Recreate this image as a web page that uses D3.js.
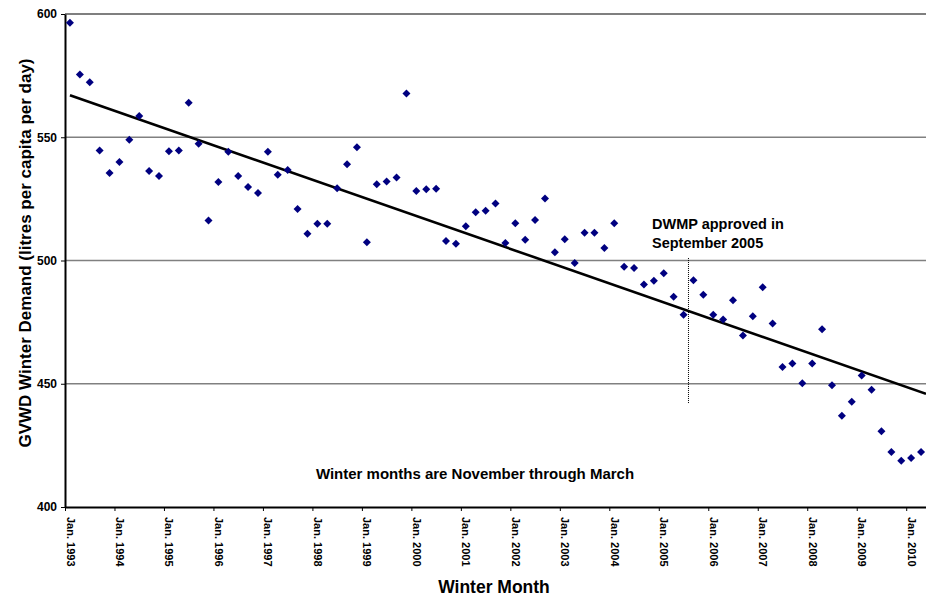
<!DOCTYPE html>
<html>
<head>
<meta charset="utf-8">
<script src="https://cdn.jsdelivr.net/npm/d3@7"></script>
<style>
  body { margin: 0; background: #fff; }
  svg { font-family: "Liberation Sans", Arial, sans-serif; font-weight: bold; }
  .axis path, .axis line { stroke: #000; }
</style>
</head>
<body>
<svg class="chart"></svg>
<script>
// Winter months (Nov-Mar), Jan 1993 to Feb 2010
var demand = [
  596.5, 575.5, 572.3, 544.6, 535.5,
  540.0, 549.0, 558.6, 536.3, 534.3,
  544.3, 544.6, 564.0, 547.4, 516.2,
  531.8, 544.1, 534.3, 529.8, 527.4,
  544.1, 534.8, 536.7, 520.9, 510.9,
  514.9, 514.9, 529.3, 539.0, 545.9,
  507.4, 530.9, 532.0, 533.7, 567.7,
  528.2, 528.9, 529.1, 507.9, 506.8,
  513.9, 519.6, 520.2, 523.1, 507.1,
  515.1, 508.4, 516.4, 525.2, 503.3,
  508.6, 499.0, 511.3, 511.3, 505.1,
  515.1, 497.5, 497.0, 490.3, 491.8,
  494.8, 485.3, 478.0, 492.0, 486.1,
  478.0, 476.1, 483.9, 469.6, 477.4,
  489.1, 474.4, 456.8, 458.2, 450.2,
  458.2, 472.1, 449.4, 437.0, 442.7,
  453.3, 447.6, 430.7, 422.3, 418.8,
  419.9, 422.3
];

var tickLabels = [
  "Jan. 1993", "Jan. 1994", "Jan. 1995", "Jan. 1996", "Jan. 1997", "Jan. 1998",
  "Jan. 1999", "Jan. 2000", "Jan. 2001", "Jan. 2002", "Jan. 2003", "Jan. 2004",
  "Jan. 2005", "Jan. 2006", "Jan. 2007", "Jan. 2008", "Jan. 2009", "Jan. 2010"
];
var tickIndex = [0, 5, 10, 15, 20, 25, 30, 35, 40, 45, 50, 55, 60, 65, 70, 75, 80, 85];
var yTicks = [400, 450, 500, 550, 600];

// DWMP approval falls between Mar 2005 (index 62) and Nov 2005 (index 63)
var dwmpIndex = 63;
var dwmpRange = [501, 442];

(function () {
  var W = 926, H = 597;
  var left = 65, right = 926, top = 14, bottom = 507;

  var svg = d3.select(".chart")
      .attr("width", W)
      .attr("height", H);

  var x = d3.scaleLinear()
    .domain([0, demand.length])
    .range([left, right]);

  var y = d3.scaleLinear()
    .domain([400, 600])
    .range([bottom, top]);

  // gridlines
  svg.append("g")
    .selectAll("line")
    .data(yTicks.filter(function(d) { return d > 400; }))
    .enter().append("line")
      .attr("x1", left).attr("x2", right)
      .attr("y1", function(d) { return y(d); })
      .attr("y2", function(d) { return y(d); })
      .attr("stroke", function(d) { return d === 600 ? "#000" : "#808080"; })
      .attr("stroke-width", function(d) { return d === 600 ? 1.2 : 1.3; });

  // y axis
  var yaxis = d3.axisLeft(y).tickValues(yTicks).tickSize(4).tickSizeOuter(0);
  var gy = svg.append("g")
    .attr("class", "axis")
    .attr("transform", "translate(" + left + ",0)")
    .call(yaxis);
  gy.select(".domain").attr("stroke-width", 2);
  gy.selectAll("text")
    .attr("x", -8)
    .style("font-size", "12px")
    .style("font-weight", "bold")
    .style("font-family", "Liberation Sans, Arial, sans-serif")
    .attr("fill", "#000");

  // x axis
  var xaxis = d3.axisBottom(x)
    .tickValues(tickIndex)
    .tickFormat(function(d, i) { return tickLabels[i]; })
    .tickSize(4)
    .tickSizeOuter(0);
  var gx = svg.append("g")
    .attr("class", "axis")
    .attr("transform", "translate(0," + bottom + ")")
    .call(xaxis);
  gx.select(".domain").attr("stroke-width", 2);
  gx.selectAll("text")
    .attr("x", 0).attr("y", 0).attr("dy", null)
    .attr("text-anchor", "start")
    .attr("transform", "translate(1,10) rotate(90)")
    .style("font-size", "11px")
    .style("font-weight", "bold")
    .style("font-family", "Liberation Sans, Arial, sans-serif")
    .attr("fill", "#000");

  // linear trend (least squares over category index)
  var n = demand.length;
  var mx = d3.mean(demand, function(d, i) { return i; });
  var my = d3.mean(demand);
  var sxy = d3.sum(demand, function(d, i) { return (i - mx) * (d - my); });
  var sxx = d3.sum(demand, function(d, i) { return (i - mx) * (i - mx); });
  var slope = sxy / sxx;
  var icpt = my - slope * mx;

  svg.append("line")
    .attr("x1", x(0.5)).attr("y1", y(icpt))
    .attr("x2", x(n)).attr("y2", y(icpt + slope * (n - 0.5)))
    .attr("stroke", "#000")
    .attr("stroke-width", 2.6);

  // points
  svg.append("g")
    .selectAll("path")
    .data(demand)
    .enter().append("path")
      .attr("d", d3.symbol().type(d3.symbolSquare).size(32))
      .attr("transform", function(d, i) {
        return "translate(" + x(i + 0.5) + "," + y(d) + ") rotate(45)";
      })
      .attr("fill", "#000080");

  // DWMP marker
  svg.append("line")
    .attr("x1", x(dwmpIndex)).attr("x2", x(dwmpIndex))
    .attr("y1", y(dwmpRange[0])).attr("y2", y(dwmpRange[1]))
    .attr("stroke", "#000")
    .attr("stroke-width", 1)
    .attr("stroke-dasharray", "1,1");

  var note = svg.append("text")
    .attr("x", 652)
    .attr("y", 229)
    .style("font-size", "14.5px")
    .attr("fill", "#000");
  note.append("tspan").attr("x", 652).text("DWMP approved in");
  note.append("tspan").attr("x", 652).attr("dy", 19).text("September 2005");

  svg.append("text")
    .attr("x", 475)
    .attr("y", 479)
    .attr("text-anchor", "middle")
    .style("font-size", "15px")
    .text("Winter months are November through March");

  // axis titles
  svg.append("text")
    .attr("x", 494)
    .attr("y", 593)
    .attr("text-anchor", "middle")
    .style("font-size", "17.5px")
    .text("Winter Month");

  svg.append("text")
    .attr("transform", "translate(31,253) rotate(-90)")
    .attr("text-anchor", "middle")
    .style("font-size", "17px")
    .text("GVWD Winter Demand (litres per capita per day)");
})();
</script>
</body>
</html>
